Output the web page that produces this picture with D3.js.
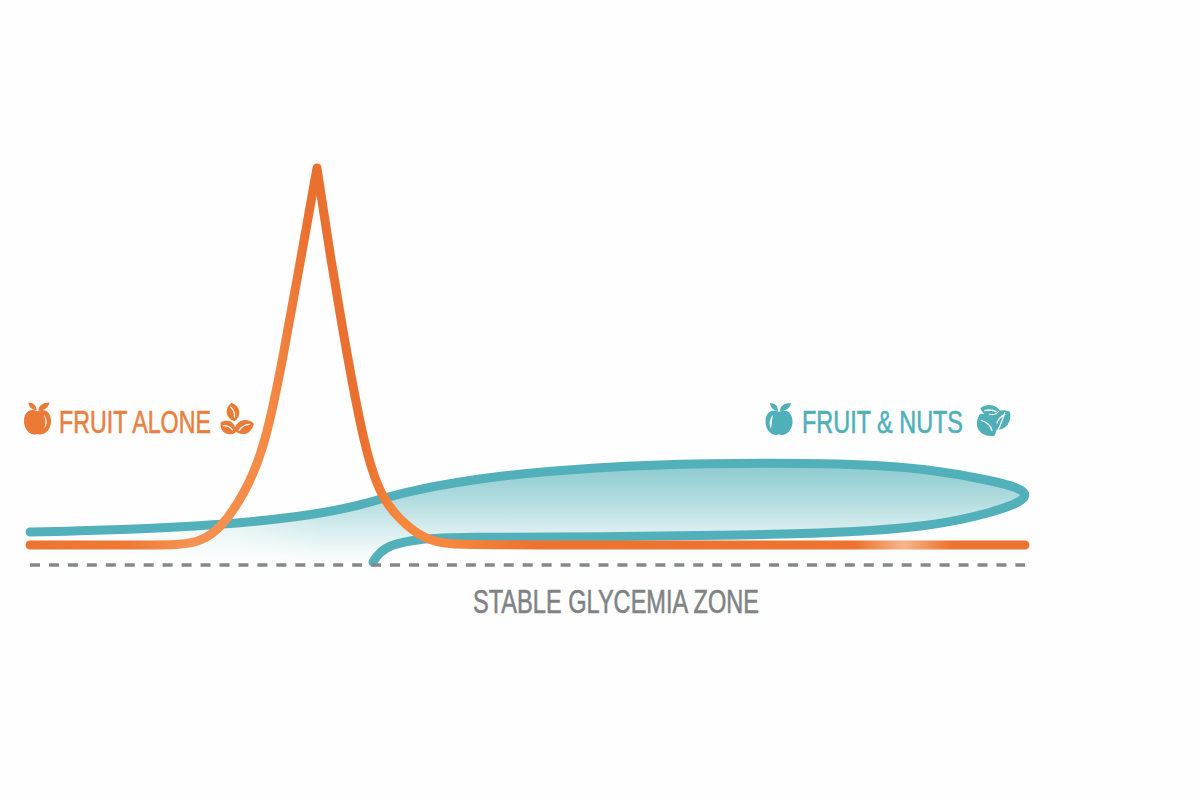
<!DOCTYPE html>
<html>
<head>
<meta charset="utf-8">
<script src="https://d3js.org/d3.v7.min.js"></script>
<style>
  html, body { margin: 0; padding: 0; background: #fefefe; }
  svg { display: block; }
  text { font-family: "Liberation Sans Narrow", "Liberation Sans", sans-serif; }
</style>
</head>
<body>
<div id="chart"></div>
<script>
// values, time along x and glycemia above the zone along y (arbitrary units)
const fruitRiseTime = [0, 60, 120, 150, 172, 192, 215, 235, 253, 270, 287];
const fruitRiseLevel = [20, 20, 20, 20, 24, 38, 72, 118, 207, 302, 397];
const fruitFallTime = [287, 300, 317, 335, 351, 370, 392, 418, 470, 995];
const fruitFallLevel = [397, 310, 210, 115, 68, 45, 27, 20, 20, 20];

// the fruit & nuts line runs out to the right, turns and comes back to the zone
const nutsTime = [0, 90, 190, 270, 330, 375, 470, 570, 670, 820, 900, 965, 996, 996, 965, 900, 803, 720, 570, 430, 387, 360, 349, 343];
const nutsLevel = [33, 35, 40, 48, 59, 74, 90, 98, 102, 102, 96, 84, 75, 65, 53, 38, 32, 30, 28, 28, 26, 20, 12, 3];

const labels = ["FRUIT ALONE", "FRUIT & NUTS", "STABLE GLYCEMIA ZONE"];

const orange = "#ec7430";
const teal = "#52b0bb";
const grey = "#85888a";

const width = 1200;
const height = 800;

const x = d3.scaleLinear().domain([0, 995]).range([30, 1025]);
const y = d3.scaleLinear().domain([0, 397]).range([565, 168]);

const svg = d3.select("#chart").append("svg")
  .attr("width", width)
  .attr("height", height);

const defs = svg.append("defs");

function addGradient(id, attrs, stops) {
  const g = defs.append("linearGradient")
    .attr("id", id)
    .attr("gradientUnits", "userSpaceOnUse");
  Object.keys(attrs).forEach((k) => g.attr(k, attrs[k]));
  stops.forEach((s) => {
    g.append("stop").attr("offset", s[0]).attr("stop-color", s[1]);
  });
}

addGradient("tealFill", { x1: 0, x2: 0, y1: 465, y2: 564 }, [
  [0, "#8ccbd0"],
  [0.35, "#b2dcdf"],
  [0.72, "#e0f1f2"],
  [1, "#ffffff"]
]);

addGradient("fadeLeft", { x1: 130, x2: 320, y1: 0, y2: 0 }, [
  [0, "#000"],
  [1, "#fff"]
]);

// the orange line gets lighter in a few spots, so the stroke follows x
addGradient("orangeStroke", { x1: 30, x2: 1025, y1: 0, y2: 0 }, [
  [0, orange],
  [0.1, "#ee7a36"],
  [0.16, "#f59352"],
  [0.24, "#f48a45"],
  [0.28, "#ea7030"],
  [0.335, "#ea7030"],
  [0.37, "#f5873e"],
  [0.42, "#f5873e"],
  [0.5, orange],
  [0.83, orange],
  [0.878, "#f8b58c"],
  [0.925, orange],
  [1, orange]
]);

defs.append("mask").attr("id", "fillMask")
  .attr("maskUnits", "userSpaceOnUse")
  .attr("x", 0).attr("y", 0).attr("width", width).attr("height", height)
  .append("rect")
  .attr("width", width).attr("height", height)
  .attr("fill", "url(#fadeLeft)");

const line = d3.line()
  .x((d) => x(d[0]))
  .y((d) => y(d[1]))
  .curve(d3.curveBasis);

const nutsPoints = d3.zip(nutsTime, nutsLevel);
const risePoints = d3.zip(fruitRiseTime, fruitRiseLevel);
const fallPoints = d3.zip(fruitFallTime, fruitFallLevel);

// fill under the teal curve, closed along the zone
svg.append("path")
  .attr("d", `${line(nutsPoints)}L${x(0)},${y(3)}Z`)
  .attr("fill", "url(#tealFill)")
  .attr("mask", "url(#fillMask)");

svg.append("path")
  .attr("d", line(nutsPoints))
  .attr("fill", "none")
  .attr("stroke", teal)
  .attr("stroke-width", 9)
  .attr("stroke-linecap", "round")
  .attr("stroke-linejoin", "round");

// two pieces so the peak stays pointed
svg.append("path")
  .attr("d", line(risePoints) + line(fallPoints).replace("M", "L"))
  .attr("fill", "none")
  .attr("stroke", "url(#orangeStroke)")
  .attr("stroke-width", 9)
  .attr("stroke-linecap", "round")
  .attr("stroke-linejoin", "round");

// stable zone
svg.append("line")
  .attr("x1", x(0)).attr("x2", x(995))
  .attr("y1", y(0)).attr("y2", y(0))
  .attr("stroke", grey)
  .attr("stroke-width", 3.5)
  .attr("stroke-dasharray", "10 8.95");

function addLabel(text, xPos, yPos, len, size, color) {
  svg.append("text")
    .attr("x", xPos)
    .attr("y", yPos)
    .attr("textLength", len)
    .attr("lengthAdjust", "spacingAndGlyphs")
    .attr("font-size", size)
    .attr("fill", color)
    .attr("stroke", color)
    .attr("stroke-width", 0.6)
    .text(text);
}

addLabel(labels[0], 59, 433, 152, 32, "#e9803f");
addLabel(labels[1], 802, 433, 161, 32, "#4fb0ba");
addLabel(labels[2], 473, 613, 286, 33, "#7f8385");

// icons
function apple(cx, cy, color, highlight) {
  const g = svg.append("g").attr("transform", `translate(${cx},${cy})`).attr("fill", color);
  g.append("path").attr("d",
    "M0,-10 C4,-13 13,-12 13.5,-1 C14,7 8,13 3,13 C1.5,13 1,12.5 0,12.5 C-1,12.5 -1.5,13 -3,13 C-8,13 -14,7 -13.5,-1 C-13,-12 -4,-13 0,-10Z");
  g.append("path").attr("d", "M-1,-11 C-6,-12 -9,-15 -9,-19 C-4,-19 -1,-16 -1,-11Z");
  g.append("path").attr("d", "M1,-11 C1,-16 5,-19 12,-19 C11,-14 7,-11 1,-11Z");
  g.append("path").attr("d", highlight).attr("fill", "#ffffff").attr("opacity", 0.9);
}

function almond(g, cx, cy, rx, ry, angle, color) {
  const a = g.append("g").attr("transform", `translate(${cx},${cy}) rotate(${angle})`);
  a.append("path")
    .attr("fill", color)
    .attr("d", `M${-rx},0 C${-rx * 0.5},${-ry * 1.3} ${rx * 0.5},${-ry * 1.3} ${rx},0 C${rx * 0.5},${ry * 1.3} ${-rx * 0.5},${ry * 1.3} ${-rx},0Z`);
  a.append("path")
    .attr("fill", "none")
    .attr("stroke", "#ffffff")
    .attr("stroke-width", 1.3)
    .attr("stroke-linecap", "round")
    .attr("d", `M${-rx * 0.55},${ry * 0.2} Q0,${-ry * 0.35} ${rx * 0.55},${-ry * 0.1}`);
}

apple(37.5, 421.5, "#ea7a35", "M6.5,-7 C10,-3 10,3 7,7 C8,2 8,-3 6.5,-7Z");
apple(779, 422, "#4fb0ba", "M-6,-7 C-10,-3 -10,3 -8,7 C-7,2 -7,-3 -6,-7Z");

const orangeNuts = svg.append("g");
almond(orangeNuts, 233, 412, 9.5, 6.5, 80, "#ea7a35");
almond(orangeNuts, 228, 427.5, 9, 6.5, 35, "#ea7a35");
almond(orangeNuts, 244, 427, 10.5, 7, -20, "#ea7a35");

const tealNuts = svg.append("g");
almond(tealNuts, 991, 411, 11, 6, 15, "#4fb0ba");
almond(tealNuts, 1000, 420, 13, 9, -40, "#4fb0ba");
almond(tealNuts, 987, 425, 13, 10, 55, "#4fb0ba");
tealNuts.append("path")
  .attr("d", "M989,414 Q995,416 999,411 M996,433 Q1000,428 1005,412")
  .attr("fill", "none").attr("stroke", "#ffffff").attr("stroke-width", 1.2);
</script>
</body>
</html>
